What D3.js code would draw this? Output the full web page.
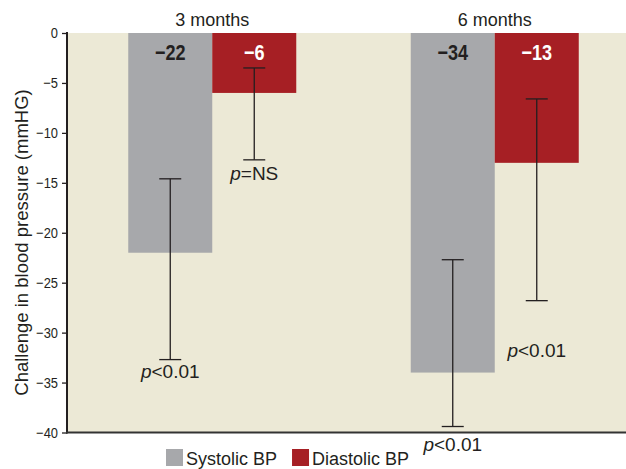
<!DOCTYPE html>
<html>
<head>
<meta charset="utf-8">
<script src="https://cdn.jsdelivr.net/npm/d3@7"></script>
<style>
  html, body { margin: 0; padding: 0; background: #fff; }
  svg { display: block; }
</style>
</head>
<body>
<svg id="chart" width="626" height="469"></svg>
<script>
// ---- data ----
const categories = ["3 months", "6 months"];
const seriesNames = ["Systolic BP", "Diastolic BP"];
const systolic = [-22, -34];
const diastolic = [-6, -13];
const systolicErrTop = [-14.6, -22.7];
const systolicErrBottom = [-32.7, -39.4];
const diastolicErrTop = [-3.5, -6.6];
const diastolicErrBottom = [-12.7, -26.8];
const systolicP = ["<0.01", "<0.01"];
const diastolicP = ["=NS", "<0.01"];
const systolicPAt = [-34.5, -41.9];   // value level of the p label baseline
const diastolicPAt = [-14.7, -32.4];
const yTicks = [0, -5, -10, -15, -20, -25, -30, -35, -40];

const colors = { "Systolic BP": "#a7a8ab", "Diastolic BP": "#a61f24" };
const labelColors = { "Systolic BP": "#231f20", "Diastolic BP": "#ffffff" };

const rows = [];
categories.forEach((c, i) => {
  rows.push({ cat: c, s: "Systolic BP", v: systolic[i], top: systolicErrTop[i], bot: systolicErrBottom[i], p: systolicP[i], pAt: systolicPAt[i] });
  rows.push({ cat: c, s: "Diastolic BP", v: diastolic[i], top: diastolicErrTop[i], bot: diastolicErrBottom[i], p: diastolicP[i], pAt: diastolicPAt[i] });
});

// ---- layout ----
const W = 626, H = 469;
const plotLeft = 67, plotTop = 33, plotBottom = 432.5;
const FONT = "'Liberation Sans', Arial, Helvetica, sans-serif";
const svg = d3.select("#chart");

function condense(sel, f) {
  sel.each(function () {
    const w = this.getComputedTextLength();
    d3.select(this).attr("textLength", w * f).attr("lengthAdjust", "spacingAndGlyphs");
  });
}

const y = d3.scaleLinear().domain([0, -40]).range([plotTop, plotBottom]);
const x0 = d3.scaleBand().domain(categories).range([71, 636]).padding(0);
const x1 = d3.scaleBand().domain(seriesNames).range([0, x0.bandwidth()]).paddingInner(0).paddingOuter(0.6815);

// background
svg.append("rect").attr("x", plotLeft).attr("y", plotTop).attr("width", W - plotLeft).attr("height", plotBottom - plotTop).attr("fill", "#ece9d6");

// bars
svg.append("g").selectAll("rect").data(rows).join("rect")
  .attr("x", d => x0(d.cat) + x1(d.s))
  .attr("y", d => y(0))
  .attr("width", x1.bandwidth())
  .attr("height", d => y(d.v) - y(0))
  .attr("fill", d => colors[d.s]);

// error bars
const eb = svg.append("g").attr("stroke", "#231f20").attr("stroke-width", 1.3).attr("fill", "none");
rows.forEach(d => {
  const cx = x0(d.cat) + x1(d.s) + x1.bandwidth() / 2;
  eb.append("line").attr("x1", cx).attr("x2", cx).attr("y1", y(d.top)).attr("y2", y(d.bot));
  eb.append("line").attr("x1", cx - 11).attr("x2", cx + 11).attr("y1", y(d.top)).attr("y2", y(d.top));
  eb.append("line").attr("x1", cx - 11).attr("x2", cx + 11).attr("y1", y(d.bot)).attr("y2", y(d.bot));
});

// value labels
const vl = svg.append("g").selectAll("text").data(rows).join("text")
  .attr("x", d => x0(d.cat) + x1(d.s) + x1.bandwidth() / 2)
  .attr("y", y(-2.7))
  .attr("text-anchor", "middle")
  .attr("font-family", FONT)
  .attr("font-weight", "bold")
  .attr("font-size", 22)
  .attr("fill", d => labelColors[d.s])
  .text(d => "\u2212" + Math.abs(d.v));
condense(vl, 0.82);

// p labels
const pg = svg.append("g").attr("font-family", FONT).attr("font-size", 19).attr("fill", "#231f20");
rows.forEach(d => {
  const cx = x0(d.cat) + x1(d.s) + x1.bandwidth() / 2;
  const t = pg.append("text").attr("x", cx).attr("y", y(d.pAt)).attr("text-anchor", "middle");
  t.append("tspan").attr("font-style", "italic").text("p");
  t.append("tspan").text(d.p);
});

// category labels on top
svg.append("g").selectAll("text").data(categories).join("text")
  .attr("x", d => x0(d) + x0.bandwidth() / 2)
  .attr("y", 26)
  .attr("text-anchor", "middle")
  .attr("font-family", FONT)
  .attr("font-size", 18)
  .attr("fill", "#231f20")
  .text(d => d);

// y axis
const yAxis = d3.axisLeft(y).tickValues(yTicks).tickSize(5).tickPadding(4)
  .tickFormat(d => d === 0 ? "0" : "\u2212" + Math.abs(d));
const ga = svg.append("g").attr("transform", `translate(${plotLeft},0)`).call(yAxis);
ga.select(".domain").remove();
ga.selectAll(".tick line").attr("stroke", "#231f20").attr("stroke-width", 1.3);
const tt = ga.selectAll(".tick text")
  .attr("font-family", FONT)
  .attr("font-size", 15)
  .attr("fill", "#231f20");
condense(tt, 0.86);

// axis lines
svg.append("line").attr("x1", plotLeft).attr("x2", plotLeft).attr("y1", plotTop - 1).attr("y2", plotBottom + 1)
  .attr("stroke", "#231f20").attr("stroke-width", 2);
svg.append("line").attr("x1", plotLeft - 1).attr("x2", W).attr("y1", plotBottom).attr("y2", plotBottom)
  .attr("stroke", "#333").attr("stroke-width", 2);

// y axis title
svg.append("text")
  .attr("transform", `translate(28,${(88 + 397) / 2}) rotate(-90)`)
  .attr("text-anchor", "middle")
  .attr("font-family", FONT)
  .attr("font-size", 18.5)
  .attr("fill", "#231f20")
  .text("Challenge in blood pressure (mmHG)");

// legend
const lg = svg.append("g").attr("transform", "translate(166,449)");
let lx = 0;
seriesNames.forEach(s => {
  lg.append("rect").attr("x", lx).attr("y", 0).attr("width", 17).attr("height", 17).attr("fill", colors[s]);
  const t = lg.append("text").attr("x", lx + 20).attr("y", 16)
    .attr("font-family", FONT)
    .attr("font-size", 18).attr("fill", "#231f20").text(s);
  lx += 20 + t.node().getComputedTextLength() + 15;
});
</script>
</body>
</html>
